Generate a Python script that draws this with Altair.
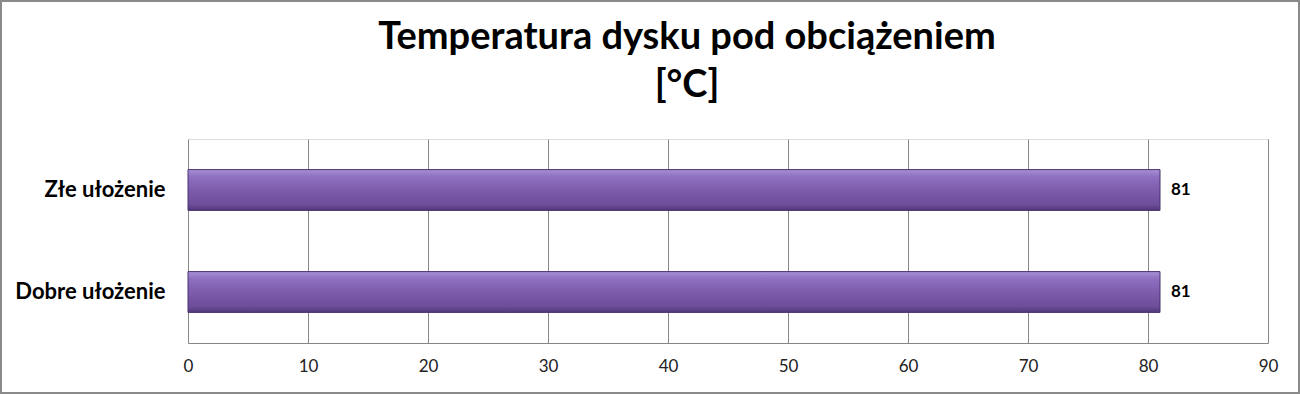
import altair as alt
import pandas as pd

categories = ["Złe ułożenie", "Dobre ułożenie"]
values = [81, 81]
ticks = [0, 10, 20, 30, 40, 50, 60, 70, 80, 90]
title_lines = ["Temperatura dysku pod obciążeniem", "[°C]"]

df = pd.DataFrame({"kategoria": categories, "temp": values})

FONT = "Lato"

x_enc = alt.X("temp:Q", scale=alt.Scale(domain=[0, 90], nice=False),
              axis=alt.Axis(values=ticks, title=None, grid=True, gridColor="#868686",
                            gridWidth=1, ticks=False, domain=True, domainColor="#868686",
                            labelFontSize=17, labelColor="#222222", labelFont=FONT,
                            labelPadding=15, labelFlush=False))
y_enc = alt.Y("kategoria:N", sort=categories,
              scale=alt.Scale(paddingInner=0.6, paddingOuter=0.3),
              axis=alt.Axis(title=None, ticks=False, domain=False, labelFontSize=22,
                            labelFontWeight="bold", labelFont=FONT, labelColor="#000000",
                            labelPadding=23))

grad = alt.Gradient(
    gradient="linear", x1=0, x2=0, y1=0, y2=1,
    stops=[
        alt.GradientStop(color="#a890d5", offset=0),
        alt.GradientStop(color="#8e6fc0", offset=0.18),
        alt.GradientStop(color="#7d5cab", offset=0.5),
        alt.GradientStop(color="#6e4e9b", offset=0.85),
        alt.GradientStop(color="#513879", offset=1),
    ],
)

bars = alt.Chart(df).mark_bar(fill=grad, stroke="#4a3270", strokeWidth=1).encode(
    x=x_enc, y=y_enc
)

labels = alt.Chart(df).mark_text(align="left", dx=11, fontSize=17, fontWeight="bold",
                                 font=FONT, color="#000000").encode(
    x=alt.X("temp:Q"), y=alt.Y("kategoria:N", sort=categories), text="temp:Q"
)

border = alt.Chart(df).mark_rect(fill=None, stroke="#8a8a8a", strokeWidth=2, clip=False).encode(
    x=alt.value(-187), x2=alt.value(1111), y=alt.value(-138), y2=alt.value(254)
)

title1 = alt.Chart(pd.DataFrame({"t": [title_lines[0]]})).mark_text(
    font=FONT, fontSize=38, fontWeight="bold", color="#000000", align="center", baseline="middle"
).encode(text="t:N", x=alt.value(499), y=alt.value(-101))

title2 = alt.Chart(pd.DataFrame({"t": [title_lines[1]]})).mark_text(
    font=FONT, fontSize=38, fontWeight="bold", color="#000000", align="center", baseline="middle"
).encode(text="t:N", x=alt.value(499), y=alt.value(-53))

chart = alt.layer(bars, labels, border, title1, title2).properties(
    width=1080, height=204,
    autosize=alt.AutoSizeParams(type="none"),
    padding={"left": 188, "top": 139, "right": 32, "bottom": 51},
).configure_view(stroke=None).configure(background="#ffffff")

chart.save("out.html", embed_options={"renderer": "svg", "actions": False})
